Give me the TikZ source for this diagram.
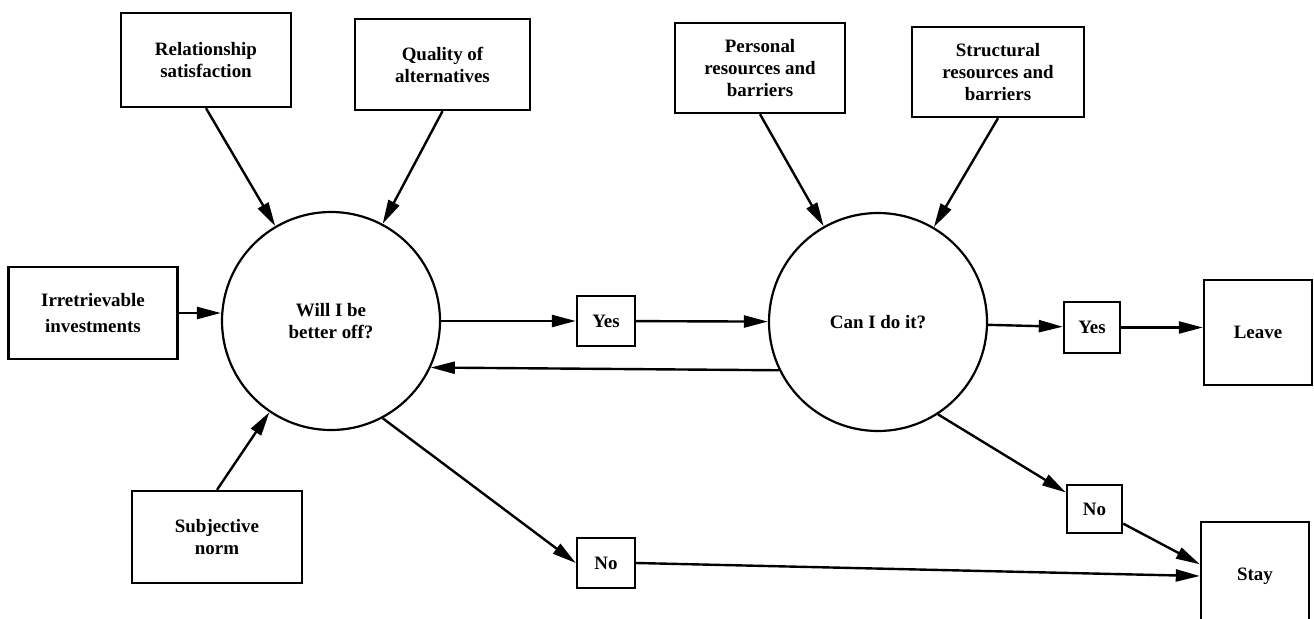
\documentclass[tikz,border=0pt]{standalone}
\usepackage{fontspec}
\setmainfont{Liberation Serif}
\usetikzlibrary{arrows.meta}
\begin{document}
\begin{tikzpicture}[x=1bp,y=-1bp,
  every node/.style={font=\fontsize{19}{22}\selectfont\bfseries, align=center, inner sep=0pt},
  box/.style={draw, line width=2.4bp, rectangle},
  bub/.style={draw, line width=2.2bp, circle, minimum size=218bp},
  arr/.style={line width=2.4bp, -{Triangle[length=24bp,width=12bp]}}]
\useasboundingbox (0,0) rectangle (1314,619);
\clip (0,0) rectangle (1314,619);
% top row
\node[box, minimum width=170bp, minimum height=94bp] (rel) at (206,60) {Relationship\\satisfaction};
\node[box, minimum width=175bp, minimum height=91bp] (qual) at (442.5,64.5) {Quality of\\alternatives};
\node[box, minimum width=170bp, minimum height=90bp] (pers) at (760,68) {Personal\\resources and\\barriers};
\node[box, minimum width=172bp, minimum height=90bp] (struc) at (998,72) {Structural\\resources and\\barriers};
% left inputs
\node[box, minimum width=169bp, minimum height=92bp, font=\fontsize{19}{26}\selectfont\bfseries] (irr) at (93,313) {Irretrievable\\investments};
\node[box, minimum width=170bp, minimum height=92bp] (subj) at (217,537) {Subjective\\norm};
% decisions
\node[bub] (c1) at (331,321) {Will I be\\better off?};
\node[bub] (c2) at (878,322) {Can I do it?};
% answers
\node[box, minimum width=58bp, minimum height=50bp] (yes1) at (606,321) {Yes};
\node[box, minimum width=56bp, minimum height=51bp] (yes2) at (1092,327.5) {Yes};
\node[box, minimum width=58bp, minimum height=50bp] (no1) at (606,563) {No};
\node[box, minimum width=55bp, minimum height=48bp] (no2) at (1094.5,509) {No};
% outcomes
\node[box, minimum width=108bp, minimum height=105bp] (leave) at (1258,332.5) {Leave};
\node[box, minimum width=108bp, minimum height=108bp] (stay) at (1255,576) {Stay};
% connectors
\draw[arr] (rel.south) -- (c1);
\draw[arr] (qual.south) -- (c1);
\draw[arr] (pers.south) -- (c2);
\draw[arr] (struc.south) -- (c2);
\draw[arr] (irr.east) -- (irr.east -| c1.west);
\draw[arr] (subj.north) -- (c1);
\draw[arr] (c1) -- (yes1);
\draw[arr] (yes1) -- (c2);
\draw[arr] (c2.206) -- (c1.335);
\draw[arr] (c2) -- (yes2);
\draw[arr] (yes2.east) -- (yes2.east -| leave.west);
\draw[arr] (c1.298) -- (no1.west);
\draw[arr] (c2.303) -- (no2.150);
\draw[arr] (no2.333) -- (stay.168);
\draw[arr] (no1.east) -- (stay.west);
\end{tikzpicture}
\end{document}
